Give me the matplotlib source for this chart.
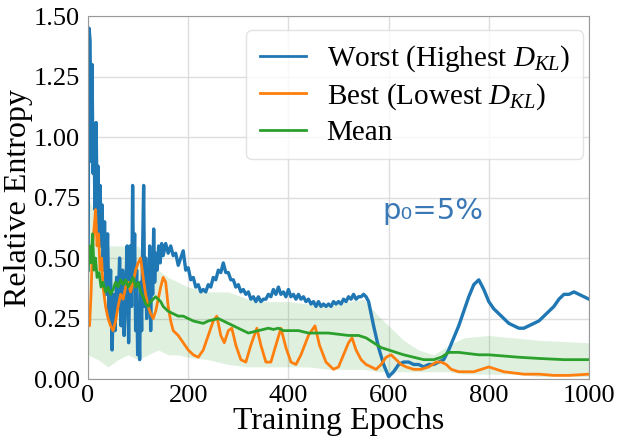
import matplotlib.pyplot as plt

# Worst run (highest D_KL)
worst_x = [0, 2, 4, 6, 8, 10, 12, 14, 16, 18, 20, 22, 24, 26, 28, 30, 33, 36, 39, 42, 45, 48, 51, 54,
           57, 60, 63, 66, 69, 72, 75, 78, 81, 84, 87, 89, 91, 93, 95, 97, 99, 101, 103, 105, 107, 109,
           111, 113, 115, 117, 119, 121, 123, 125, 127, 129, 131, 133, 135, 138, 141, 144, 147,
           150, 155, 160, 165, 170, 175, 180, 185, 190, 195, 200, 205, 210, 215, 220, 225, 230, 235,
           240, 245, 250, 255, 260, 265, 270, 275, 280, 285, 290, 295, 300, 305, 310, 315, 320, 325,
           330, 335, 340, 345, 350, 355, 360, 365, 370, 375, 380, 385, 390, 395, 400, 405, 410, 415,
           420, 425, 430, 435, 440, 445, 450, 455, 460, 465, 470, 475, 480, 485, 490, 495, 500, 505,
           510, 515, 520, 525, 530, 535, 540, 545, 550, 555, 560, 570, 580, 590, 600, 610, 620, 630,
           640, 650, 660, 670, 680, 690, 700, 710, 720, 730, 740, 750, 760, 770, 780, 790, 800, 810,
           820, 830, 840, 850, 860, 870, 880, 890, 900, 910, 920, 930, 940, 950, 960, 970, 980, 990, 1000]
worst_y = [0.45, 1.45, 1.40, 0.90, 1.30, 0.85, 0.95, 0.70, 1.06, 0.75, 0.88, 0.60, 0.80, 0.55, 0.72, 0.45,
           0.65, 0.35, 0.60, 0.25, 0.45, 0.12, 0.35, 0.20, 0.42, 0.30, 0.50, 0.22, 0.45, 0.18, 0.35, 0.55,
           0.15, 0.55, 0.30, 0.80, 0.40, 0.60, 0.20, 0.45, 0.10, 0.30, 0.08, 0.40, 0.20, 0.55, 0.80, 0.30,
           0.50, 0.25, 0.45, 0.30, 0.55, 0.20, 0.50, 0.35, 0.62, 0.40, 0.52, 0.45, 0.55, 0.48, 0.56,
           0.51, 0.56, 0.52, 0.55, 0.51, 0.52, 0.47, 0.50, 0.53, 0.45, 0.46, 0.41, 0.42, 0.38, 0.39, 0.36,
           0.37, 0.36, 0.39, 0.38, 0.42, 0.41, 0.45, 0.44, 0.48, 0.44, 0.44, 0.41, 0.41, 0.38, 0.39, 0.36,
           0.37, 0.35, 0.36, 0.33, 0.34, 0.32, 0.34, 0.32, 0.33, 0.33, 0.35, 0.34, 0.37, 0.35, 0.38, 0.35,
           0.36, 0.34, 0.37, 0.34, 0.35, 0.33, 0.35, 0.33, 0.34, 0.32, 0.33, 0.31, 0.32, 0.30, 0.32, 0.30,
           0.31, 0.30, 0.31, 0.30, 0.32, 0.31, 0.32, 0.31, 0.33, 0.32, 0.34, 0.33, 0.35, 0.33, 0.34, 0.34,
           0.35, 0.34, 0.32, 0.22, 0.13, 0.06, 0.01, 0.03, 0.06, 0.07, 0.07, 0.06, 0.06, 0.05, 0.06, 0.06,
           0.07, 0.08, 0.12, 0.17, 0.22, 0.28, 0.34, 0.39, 0.41, 0.37, 0.32, 0.29, 0.27, 0.25, 0.23, 0.22,
           0.21, 0.21, 0.22, 0.23, 0.24, 0.26, 0.28, 0.30, 0.33, 0.35, 0.35, 0.36, 0.35, 0.34, 0.33]

# Best run (lowest D_KL)
best_x = [0, 3, 6, 9, 12, 15, 18, 21, 24, 27, 30, 35, 40, 45, 50, 55, 60, 65, 70, 75, 80, 85, 90, 95,
          100, 105, 110, 115, 120, 125, 130, 135, 140, 145, 150, 155, 160, 165, 170, 180, 190, 200, 210,
          220, 230, 240, 250, 257, 265, 272, 280, 287, 295, 305, 315, 325, 337, 345, 355, 365, 375, 385,
          395, 405, 415, 425, 440, 453, 462, 475, 490, 500, 510, 520, 527, 535, 545, 555, 565, 575, 585,
          595, 605, 615, 625, 635, 650, 665, 680, 695, 705, 715, 725, 740, 755, 770, 785, 800, 815, 830,
          850, 870, 900, 930, 960, 1000]
best_y = [0.25, 0.22, 0.35, 0.55, 0.62, 0.70, 0.55, 0.60, 0.45, 0.50, 0.38, 0.30, 0.25, 0.22, 0.20, 0.24,
          0.30, 0.35, 0.33, 0.38, 0.40, 0.36, 0.40, 0.45, 0.48, 0.50, 0.42, 0.35, 0.30, 0.27, 0.25, 0.28,
          0.33, 0.38, 0.42, 0.40, 0.30, 0.24, 0.20, 0.18, 0.15, 0.12, 0.10, 0.09, 0.12, 0.18, 0.24, 0.26,
          0.18, 0.15, 0.20, 0.21, 0.14, 0.08, 0.07, 0.14, 0.21, 0.14, 0.07, 0.07, 0.14, 0.21, 0.13, 0.07,
          0.06, 0.10, 0.18, 0.22, 0.14, 0.07, 0.04, 0.05, 0.10, 0.15, 0.17, 0.12, 0.08, 0.06, 0.05, 0.04,
          0.06, 0.09, 0.10, 0.08, 0.06, 0.05, 0.04, 0.04, 0.05, 0.07, 0.07, 0.06, 0.04, 0.03, 0.03, 0.03,
          0.04, 0.05, 0.04, 0.03, 0.025, 0.02, 0.02, 0.015, 0.015, 0.02]

# Mean over runs
mean_x = [0, 3, 6, 9, 12, 15, 18, 22, 26, 30, 35, 40, 45, 50, 55, 60, 65, 70, 75, 80, 85, 90, 95, 100,
          105, 110, 115, 120, 125, 130, 135, 140, 145, 150, 160, 170, 180, 190, 200, 210, 220, 230, 240,
          250, 260, 270, 280, 290, 300, 310, 320, 330, 340, 350, 360, 370, 380, 390, 400, 420, 440, 460,
          480, 500, 520, 540, 555, 570, 585, 600, 615, 630, 650, 670, 690, 705, 720, 740, 760, 780, 800,
          830, 860, 900, 950, 1000]
mean_y = [0.45, 0.55, 0.48, 0.60, 0.45, 0.50, 0.42, 0.44, 0.38, 0.40, 0.36, 0.38, 0.35, 0.37, 0.40, 0.38,
          0.41, 0.39, 0.41, 0.38, 0.40, 0.42, 0.38, 0.40, 0.36, 0.34, 0.31, 0.30, 0.32, 0.33, 0.34, 0.33,
          0.32, 0.30, 0.28, 0.27, 0.26, 0.26, 0.25, 0.24, 0.235, 0.23, 0.24, 0.245, 0.25, 0.24, 0.23, 0.22,
          0.21, 0.20, 0.19, 0.195, 0.20, 0.205, 0.21, 0.205, 0.21, 0.20, 0.20, 0.20, 0.19, 0.19, 0.19,
          0.185, 0.18, 0.18, 0.17, 0.15, 0.13, 0.12, 0.11, 0.10, 0.09, 0.08, 0.08, 0.09, 0.11, 0.11, 0.105,
          0.10, 0.10, 0.095, 0.09, 0.085, 0.08, 0.08]

# spread band around the mean
band_x = [0, 20, 40, 60, 80, 100, 120, 140, 160, 180, 200, 240, 280, 320, 360, 400, 440, 480, 520, 550,
          580, 600, 630, 660, 690, 720, 750, 800, 850, 900, 950, 1000]
band_hi = [0.75, 0.65, 0.55, 0.55, 0.55, 0.55, 0.48, 0.45, 0.42, 0.40, 0.38, 0.36, 0.36, 0.33, 0.32, 0.32,
           0.31, 0.31, 0.32, 0.33, 0.26, 0.22, 0.16, 0.12, 0.10, 0.14, 0.17, 0.18, 0.17, 0.16, 0.155, 0.15]
band_lo = [0.10, 0.08, 0.05, 0.08, 0.10, 0.08, 0.10, 0.12, 0.10, 0.10, 0.09, 0.08, 0.06, 0.05, 0.05, 0.05,
           0.05, 0.04, 0.04, 0.04, 0.03, 0.03, 0.03, 0.03, 0.03, 0.03, 0.02, 0.02, 0.02, 0.01, 0.01, 0.01]

xticks = [0, 200, 400, 600, 800, 1000]
yticks = [0.00, 0.25, 0.50, 0.75, 1.00, 1.25, 1.50]

plt.rcParams['font.family'] = 'Liberation Serif'
plt.rcParams['mathtext.fontset'] = 'custom'
plt.rcParams['mathtext.rm'] = 'Liberation Serif'
plt.rcParams['mathtext.it'] = 'Liberation Serif:italic'

fig = plt.figure(figsize=(6.2, 4.48), dpi=100)
ax = fig.add_axes([0.142, 0.154, 0.808, 0.81])

ax.fill_between(band_x, band_lo, band_hi, color='#2ca02c', alpha=0.15, linewidth=0)
ax.plot(worst_x, worst_y, color='#1f77b4', lw=2.4, label='Worst (Highest $D_{KL}$)')
ax.plot(best_x, best_y, color='#ff7f0e', lw=2.0, label='Best (Lowest $D_{KL}$)')
ax.plot(mean_x, mean_y, color='#2ca02c', lw=2.0, label='Mean')

ax.set_xlim(0, 1000)
ax.set_ylim(0, 1.5)
ax.set_xticks(xticks)
ax.set_yticks(yticks)
ax.set_yticklabels(['%.2f' % v for v in yticks])
ax.tick_params(labelsize=19, length=0)
ax.tick_params(axis='x', pad=4)
ax.tick_params(axis='y', pad=6)
ax.grid(color='#dddddd', lw=1)
ax.set_axisbelow(True)
for s in ax.spines.values():
    s.set_color('#999999')

ax.set_xlabel('Training Epochs', fontsize=23, labelpad=0)
ax.set_ylabel('Relative Entropy', fontsize=23, labelpad=0)

ax.text(587, 0.66, 'p\u2080=5%', family='DejaVu Sans', fontsize=21, color='#3a78b5')

leg = ax.legend(loc='upper right', bbox_to_anchor=(0.988, 0.961), fontsize=21, handlelength=1.6,
                labelspacing=0.25, borderpad=0.45, borderaxespad=0, handletextpad=0.7,
                framealpha=0.8, edgecolor='#dddddd')
for line in leg.get_lines():
    line.set_linewidth(2.0)

fig.savefig('out.png', dpi=100)
